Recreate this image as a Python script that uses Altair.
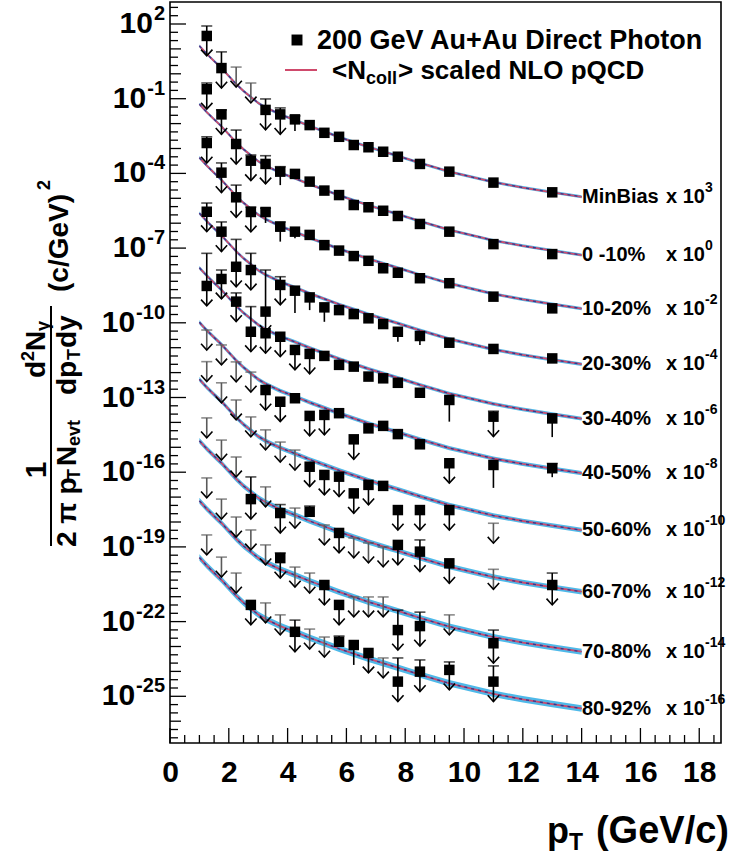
import altair as alt
import pandas as pd

# ---------------- data (log10 of the plotted yield, already scaled) ----------------
PT = [1.25, 1.75, 2.25, 2.75, 3.25, 3.75, 4.25, 4.75, 5.25, 5.75,
      6.25, 6.75, 7.25, 7.75, 8.5, 9.5, 11.0, 13.0]

# <Ncoll> scaled NLO pQCD for MinBias x 10^3 (log10)
NLO_PT = [1.0, 1.25, 1.5, 1.75, 2.0, 2.25, 2.5, 2.75, 3.0, 3.25, 3.5, 3.75, 4.25,
          4.75, 5.25, 5.75, 6.25, 6.75, 7.25, 7.75, 8.5, 9.5, 11.0, 12.0, 13.0, 14.0]
NLO_LG = [1.12, 0.80, 0.51, 0.23, -0.09, -0.41, -0.69, -0.93, -1.17, -1.35, -1.49, -1.63, -1.86,
          -2.10, -2.32, -2.54, -2.74, -2.94, -3.12, -3.30, -3.58, -3.93, -4.35, -4.57, -4.76, -4.94]

SERIES = ["MinBias", "0 -10%", "10-20%", "20-30%", "30-40%",
          "40-50%", "50-60%", "60-70%", "70-80%", "80-92%"]
SCALE_EXP = ["3", "0", "-2", "-4", "-6", "-8", "-10", "-12", "-14", "-16"]
# curve offset of each centrality relative to the MinBias curve (decades)
OFFSET = [0.0, -2.34, -4.49, -6.72, -8.91, -11.10, -13.39, -15.86, -18.27, -20.55]
# half width of the NLO uncertainty band (decades)
BAND = [0.06, 0.06, 0.065, 0.07, 0.075, 0.085, 0.095, 0.11, 0.12, 0.13]

N = None
# (value, top of error bar / upper limit, bottom of error bar, arrow)
MB = [(1.52, 1.92, N, 1), (0.23, 0.88, N, 1), (N, 0.27, N, 1), (N, -0.37, N, 1),
      (-1.45, -1.01, N, 1), (-1.63, -1.37, N, 1), (-1.83, -1.69, -2.30, 0), (-2.06, N, N, 0),
      (-2.37, N, N, 0), (-2.53, N, N, 0), (-2.86, N, N, 0), (-2.95, N, N, 0),
      (-3.13, N, N, 0), (-3.33, N, N, 0), (-3.62, N, N, 0), (-3.93, N, N, 0),
      (-4.37, N, N, 0), (-4.76, N, N, 0)]
C0 = [(-0.62, -0.37, N, 1), (-1.63, -1.45, N, 1), (-2.82, -2.26, N, 1), (-3.49, -3.26, N, 1),
      (-3.62, -3.29, N, 1), (-3.93, -3.73, -4.47, 0), (-4.02, N, N, 0), (-4.33, N, N, 0),
      (-4.69, N, N, 0), (-4.87, N, N, 0), (-5.27, N, N, 0), (-5.36, N, N, 0),
      (-5.50, N, N, 0), (-5.71, N, N, 0), (-6.03, N, N, 0), (-6.34, N, N, 0),
      (-6.84, N, N, 0), (-7.24, N, N, 0)]
C1 = [(-2.78, -2.53, N, 1), (-3.97, -3.58, N, 1), (-4.96, -4.47, N, 1), (-5.55, -5.35, N, 1),
      (-5.55, -5.40, -5.99, 0), (-6.14, -5.95, -6.74, 0), (-6.34, N, -6.60, 0), (-6.47, N, N, 0),
      (-6.88, N, N, 0), (-7.10, N, N, 0), (-7.32, N, N, 0), (-7.51, N, N, 0),
      (-7.81, N, N, 0), (-7.99, N, N, 0), (-8.21, N, N, 0), (-8.41, N, N, 0),
      (-8.95, N, N, 0), (-9.42, N, N, 0)]
C2 = [(-5.54, -5.19, N, 1), (-6.34, -5.95, N, 1), (-7.75, -6.65, N, 1), (-7.88, -7.21, N, 1),
      (-9.55, -7.88, N, 1), (-8.48, -8.15, N, 1), (-8.71, N, -9.61, 0), (-8.98, N, -9.49, 0),
      (-9.38, N, -9.96, 0), (-9.49, N, N, 0), (-9.65, N, N, 0), (-9.82, N, N, 0),
      (-10.05, N, N, 0), (-10.36, N, -10.76, 0), (-10.53, N, -10.89, 0), (-10.80, N, N, 0),
      (-11.05, N, N, 0), (-11.43, N, N, 0)]
C3 = [(-8.52, -7.21, N, 1), (-8.24, -7.88, N, 1), (-9.15, -8.80, N, 1), (-10.36, -9.35, N, 1),
      (-10.42, N, N, 1), (-10.56, N, N, 1), (-11.09, N, N, 1), (-11.25, N, N, 1),
      (-11.33, N, N, 0), (-11.69, N, N, 0), (-11.76, N, N, 0), (-12.16, N, N, 0),
      (-12.23, N, N, 0), (-12.41, N, N, 0), (-12.81, N, N, 0), (-13.10, N, -13.97, 0),
      (-13.77, -13.55, N, 1), (-13.84, N, -14.59, 0)]
C4 = [(N, -10.29, N, 1), (N, -10.89, N, 1), (N, -11.57, N, 1), (N, -11.98, N, 1),
      (-12.70, N, N, 1), (-13.17, N, N, 1), (-13.03, N, N, 0), (-13.74, N, N, 1),
      (-13.70, N, N, 1), (-13.63, N, N, 0), (-14.68, N, N, 1), (-14.24, N, N, 0),
      (-14.14, N, N, 0), (-14.47, N, N, 0), (-14.88, N, N, 0), (-15.64, N, N, 1),
      (-15.71, N, -16.63, 0), (-15.84, -15.65, -16.20, 0)]
C5 = [(N, -11.56, N, 1), (N, -12.41, N, 1), (N, -13.10, N, 1), (N, -13.78, N, 1),
      (N, -14.30, N, 1), (N, -14.79, N, 1), (N, -15.11, N, 1), (-15.78, N, N, 1),
      (-16.11, N, N, 1), (-16.18, N, N, 1), (-16.85, N, N, 1), (-16.51, N, N, 1),
      (-16.55, N, N, 0), (-17.52, N, N, 1), (-17.52, N, N, 1), (-17.52, N, N, 1),
      (N, -18.05, N, 1), (N, N, N, 0)]
C6 = [(N, -13.82, N, 1), (N, -14.71, N, 1), (N, -15.39, N, 1), (-17.08, -16.19, N, 1),
      (N, -16.59, N, 1), (-17.64, -17.30, N, 1), (N, -17.44, N, 1), (-17.59, -17.36, N, 0),
      (N, -18.12, N, 1), (-18.44, N, N, 1), (N, -18.64, N, 1), (N, -18.84, N, 1),
      (N, -19.00, N, 1), (-18.92, N, N, 1), (-19.19, -18.72, N, 1), (-19.66, N, N, 1),
      (N, -19.90, N, 1), (-20.53, -20.05, N, 1)]
C7 = [(N, -16.23, N, 1), (N, -17.08, N, 1), (N, -17.80, N, 1), (N, -18.32, N, 1),
      (N, -18.92, N, 1), (-19.45, -19.24, N, 1), (N, -19.81, N, 1), (N, -20.05, N, 1),
      (-20.53, N, N, 1), (-21.33, N, N, 1), (N, -21.01, N, 1), (N, -21.01, N, 1),
      (N, -21.01, N, 1), (-22.34, -21.54, N, 1), (-22.18, -21.62, N, 1), (N, -21.73, N, 1),
      (-22.87, -22.34, N, 1), (N, N, N, 0)]
C8 = [(N, -18.52, N, 1), (N, -19.41, N, 1), (N, -20.05, N, 1), (-21.33, N, N, 1),
      (N, -21.25, N, 1), (N, -21.73, N, 1), (-22.41, -21.94, N, 1), (N, -22.30, N, 1),
      (N, -22.62, N, 1), (-22.81, -22.58, N, 0), (-22.94, N, -23.74, 0), (-23.26, N, N, 1),
      (N, -23.46, N, 1), (-24.41, -23.46, N, 1), (-24.01, -23.54, N, 1), (-23.94, -23.62, N, 1),
      (-24.41, -23.78, N, 1), (N, N, N, 0)]
DATA = [MB, C0, C1, C2, C3, C4, C5, C6, C7, C8]

LABEL_EXP = [2, -1, -4, -7, -10, -13, -16, -19, -22, -25]
X_LABELS = [0, 2, 4, 6, 8, 10, 12, 14, 16, 18]

# ---------------- styling / layout ----------------
FONT = "Liberation Sans"
PURPLE = "#4a1f8f"
BLUE = "#45b5e8"
RED = "#cf4a6c"
NAVY = "#2d3a92"
OX, OY = 170, 2           # plot origin in the page
W, H = 551, 741
ARROW = 0.8               # arrow length in decades

# ---------------- build tables ----------------
curve_rows, sq_rows, seg_rows, cap_rows, head_rows, lab_rows = [], [], [], [], [], []
for i, name in enumerate(SERIES):
    for p, lg in zip(NLO_PT, NLO_LG):
        c = lg + OFFSET[i]
        curve_rows.append(dict(s=name, pt=p, y=10 ** c,
                               lo=10 ** (c - BAND[i]), hi=10 ** (c + BAND[i])))
    lab_rows.append(dict(s=name, sc="x 10", ex=SCALE_EXP[i],
                         y=10 ** (NLO_LG[-1] + OFFSET[i])))
    for p, (v, h, l, a) in zip(PT, DATA[i]):
        if v is not None:
            sq_rows.append(dict(s=name, pt=p, y=10 ** v, mb="mb" if i == 0 else "c"))
            if h is not None:
                seg_rows.append(dict(pt=p, y1=10 ** v, y2=10 ** h, k="err"))
            if l is not None:
                seg_rows.append(dict(pt=p, y1=10 ** v, y2=10 ** l, k="err"))
        if h is not None:
            cap_rows.append(dict(pt=p, y=10 ** h, k="ul" if v is None else "err"))
        if a:
            s0 = v if v is not None else h
            seg_rows.append(dict(pt=p, y1=10 ** s0, y2=10 ** (s0 - ARROW),
                                 k="ul" if v is None else "arr"))
            head_rows.append(dict(pt=p, y=10 ** (s0 - ARROW)))

curves = pd.DataFrame(curve_rows)
squares = pd.DataFrame(sq_rows)
segs = pd.DataFrame(seg_rows)
caps = pd.DataFrame(cap_rows)
heads = pd.DataFrame(head_rows)
labs = pd.DataFrame(lab_rows)

ytop = 2 + (24 - OY) / 24.9
ybot = 2 - (OY + H - 24) / 24.9
xsc = alt.Scale(domain=[0, 18.74], nice=False, zero=False)
ysc = alt.Scale(type="log", domain=[10 ** ybot, 10 ** ytop], nice=False)
xax = alt.Axis(values=X_LABELS, ticks=False, domain=False, grid=False, title=None,
               labelFont=FONT, labelFontSize=30, labelFontWeight="bold", labelColor="black",
               labelPadding=14, labelFlush=False, labelOverlap=False)


def X(f):
    return alt.X(f, type="quantitative", scale=xsc, axis=xax)


def Y(f):
    return alt.Y(f, type="quantitative", scale=ysc, axis=None)


band = alt.Chart(curves).mark_area(color=BLUE, opacity=0.95).encode(
    x=X("pt"), y=Y("lo"), y2="hi", detail="s:N")
red = alt.Chart(curves).mark_line(color=RED, strokeWidth=1.8).encode(
    x=X("pt"), y=Y("y"), detail="s:N")
navy = alt.Chart(curves).mark_line(color=NAVY, strokeWidth=1.3, strokeDash=[3, 4]).encode(
    x=X("pt"), y=Y("y"), detail="s:N")

segc = alt.Color("k:N", scale=alt.Scale(domain=["err", "arr", "ul"],
                                        range=["black", "black", "#5a5a5a"]), legend=None)
seg_l = alt.Chart(segs).mark_rule(strokeWidth=1.6).encode(
    x=X("pt"), y=Y("y1"), y2="y2", color=segc)
cap_l = alt.Chart(caps).mark_tick(orient="horizontal", size=11, thickness=1.6).encode(
    x=X("pt"), y=Y("y"), color=segc)
head_l = alt.Chart(heads).mark_point(shape="M-1,-1.1L0,0L1,-1.1", filled=False, size=130,
                                     strokeWidth=1.6, color="black", opacity=1).encode(
    x=X("pt"), y=Y("y"))
sq_l = alt.Chart(squares).mark_square(size=110, opacity=1).encode(
    x=X("pt"), y=Y("y"),
    color=alt.Color("mb:N", scale=alt.Scale(domain=["mb", "c"], range=[PURPLE, "black"]),
                    legend=None))


def ltext(field, x, size, dy=0):
    return alt.Chart(labs).mark_text(font=FONT, fontSize=size, fontWeight="bold", align="left",
                                     baseline="middle", color="black", dy=dy).encode(
        x=alt.value(x - OX), y=Y("y"), text=f"{field}:N")


lab_layers = [ltext("s", 582, 20), ltext("sc", 666, 20), ltext("ex", 705, 14, dy=-9)]

# y tick labels: "10" with a raised exponent, right aligned at the axis
CW = {"-": 0.333, "0": 0.556, "1": 0.556, "2": 0.556, "3": 0.556, "4": 0.556, "5": 0.556,
      "6": 0.556, "7": 0.556, "8": 0.556, "9": 0.556}
ylab_layers = []
for e in LABEL_EXP:
    es = str(e)
    ew = sum(CW[ch] for ch in es) * 20
    xe = 165 - ew
    d = pd.DataFrame({"v": [10.0 ** e], "b": ["10"], "e": [es]})
    ylab_layers.append(alt.Chart(d).mark_text(
        font=FONT, fontSize=30, fontWeight="bold", align="right", baseline="middle",
        color="black").encode(x=alt.value(xe - 1 - OX), y=Y("v"), text="b:N"))
    ylab_layers.append(alt.Chart(d).mark_text(
        font=FONT, fontSize=20, fontWeight="bold", align="left", baseline="middle",
        color="black", dy=-10).encode(x=alt.value(xe - OX), y=Y("v"), text="e:N"))

# inner ticks
YT3 = [10 ** (k / 3) for k in range(-80, 9) if k % 3 != 0]
YT1 = [10.0 ** k for k in range(-26, 3) if (2 - k) % 3 != 0]
YTL = [10.0 ** e for e in LABEL_EXP]
XTM = [0.5 * k for k in range(0, 38) if k % 4 != 0]
XTL = X_LABELS


def yticks(vals, ln):
    return alt.Chart(pd.DataFrame({"v": vals})).mark_rule(color="black", strokeWidth=1.3).encode(
        y=Y("v"), x=alt.value(0), x2=alt.value(ln))


def xticks(vals, ln):
    return alt.Chart(pd.DataFrame({"t": vals})).mark_rule(color="black", strokeWidth=1.3).encode(
        x=X("t"), y=alt.value(H), y2=alt.value(H - ln))


def txt(s, x, y, size, angle=0, align="left", baseline="middle", weight="bold"):
    return alt.Chart(pd.DataFrame({"t": [s]})).mark_text(
        font=FONT, fontSize=size, fontWeight=weight, angle=angle, align=align,
        baseline=baseline, color="black").encode(
        x=alt.value(x - OX), y=alt.value(y - OY), text="t:N")


def vbar(x, y1, y2):
    return alt.Chart(pd.DataFrame({"a": [0]})).mark_rule(color="black", strokeWidth=2).encode(
        x=alt.value(x - OX), y=alt.value(y1 - OY), y2=alt.value(y2 - OY))


one = pd.DataFrame({"a": [0]})
legend = [
    alt.Chart(one).mark_square(size=120, color="black", opacity=1).encode(
        x=alt.value(297 - OX), y=alt.value(40 - OY)),
    txt("200 GeV Au+Au Direct Photon", 317, 41, 27),
    alt.Chart(one).mark_rule(color=RED, strokeWidth=2).encode(
        x=alt.value(285 - OX), x2=alt.value(317 - OX), y=alt.value(70 - OY)),
    txt("<N", 332, 71, 26),
    txt("coll", 366, 79, 18),
    txt("> scaled NLO pQCD", 398, 71, 26),
]

xtitle = [
    txt("p", 547, 832, 36),
    txt("T", 569, 843, 23),
    txt("(GeV/c)", 729, 832, 38, align="right"),
]

DX = 6
ytitle = [
    txt("1", 31 + DX, 470, 30, angle=270, align="center"),
    vbar(45 + DX, 394, 546),
    txt("2 π p", 62 + DX, 547, 28, angle=270),
    txt("T", 69 + DX, 480, 18, angle=270),
    txt("N", 62 + DX, 466, 28, angle=270),
    txt("evt", 69 + DX, 446, 18, angle=270),
    txt("d", 31 + DX, 378, 28, angle=270),
    txt("2", 23 + DX, 361, 18, angle=270),
    txt("N", 31 + DX, 351, 28, angle=270),
    txt("γ", 38 + DX, 331, 18, angle=270),
    vbar(45 + DX, 306, 396),
    txt("dp", 62 + DX, 395, 28, angle=270),
    txt("T", 69 + DX, 360, 18, angle=270),
    txt("dy", 62 + DX, 348, 28, angle=270),
    txt("(c/GeV)", 54 + DX, 292, 28, angle=270),
    txt("2", 39 + DX, 190, 18, angle=270),
]

layers = [band, red, navy, seg_l, cap_l, head_l, sq_l] + lab_layers + ylab_layers
layers += [yticks(YT3, 8), yticks(YT1, 11), yticks(YTL, 16), xticks(XTM, 8), xticks(XTL, 15)]
layers += legend + xtitle + ytitle

chart = alt.layer(*layers).properties(
    width=W, height=H,
    autosize=alt.AutoSizeParams(type="none"),
    padding={"left": OX, "top": OY, "right": 730 - OX - W, "bottom": 865 - OY - H},
    background="white",
).configure_view(stroke="black", strokeWidth=1.6)

chart.save("out.html", embed_options={"renderer": "svg", "actions": False})
